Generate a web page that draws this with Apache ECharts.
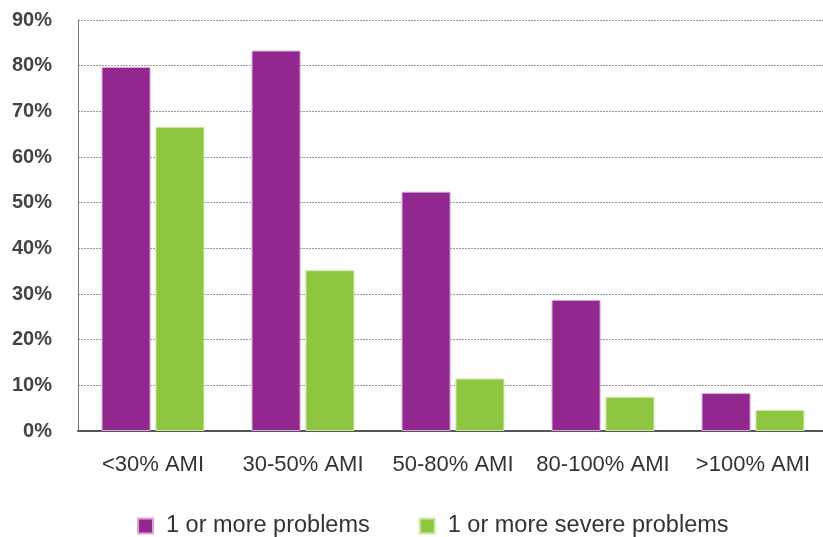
<!DOCTYPE html>
<html>
<head>
<meta charset="utf-8">
<script src="https://cdn.jsdelivr.net/npm/echarts@6/dist/echarts.min.js"></script>
<style>html,body{margin:0;padding:0;background:#fff}#c{width:823px;height:537px}</style>
</head>
<body>
<div id="c"></div>
<script>
var categories = ['<30% AMI', '30-50% AMI', '50-80% AMI', '80-100% AMI', '>100% AMI'];
var seriesNames = ['1 or more problems', '1 or more severe problems'];
var problems = [79.7, 83.3, 52.4, 28.7, 8.3];
var severeProblems = [66.6, 35.2, 11.5, 7.5, 4.6];
var yTicks = [0, 10, 20, 30, 40, 50, 60, 70, 80, 90];

var chart = echarts.init(document.getElementById('c'), null, {renderer: 'canvas'});
chart.setOption({
  animation: false,
  backgroundColor: '#ffffff',
  grid: {left: 78, top: 20, width: 750, bottom: 106, containLabel: false, outerBoundsMode: 'none'},
  legend: {
    left: 132, top: 509,
    itemWidth: 15, itemHeight: 15, itemGap: 49,
    icon: 'rect',
    textStyle: {fontFamily: 'Liberation Sans', fontSize: 23.5, color: '#333', padding: [0, 0, 0, 8]},
    data: seriesNames
  },
  xAxis: {
    type: 'category',
    data: categories,
    axisLine: {lineStyle: {color: '#555', width: 2}},
    axisTick: {show: false},
    axisLabel: {fontFamily: 'Liberation Sans', fontSize: 22, color: '#333', margin: 23, interval: 0}
  },
  yAxis: {
    type: 'value',
    min: yTicks[0], max: yTicks[yTicks.length - 1], interval: 10,
    axisLine: {show: true, lineStyle: {color: '#777', width: 1}},
    axisTick: {show: false},
    splitLine: {lineStyle: {color: '#999', type: [2, 1], width: 1}},
    axisLabel: {fontFamily: 'Liberation Sans', fontWeight: 'bold', fontSize: 20, color: '#444', margin: 26,
      formatter: function (v) { return v + '%'; }}
  },
  series: [
    {name: seriesNames[0], type: 'bar', data: problems, barWidth: 49, barGap: '10%',
     itemStyle: {color: '#92278F', borderColor: '#d7a6d5', borderWidth: 1}},
    {name: seriesNames[1], type: 'bar', data: severeProblems, barWidth: 49,
     itemStyle: {color: '#8DC63F', borderColor: '#cfe8ad', borderWidth: 1}}
  ]
});
</script>
</body>
</html>
